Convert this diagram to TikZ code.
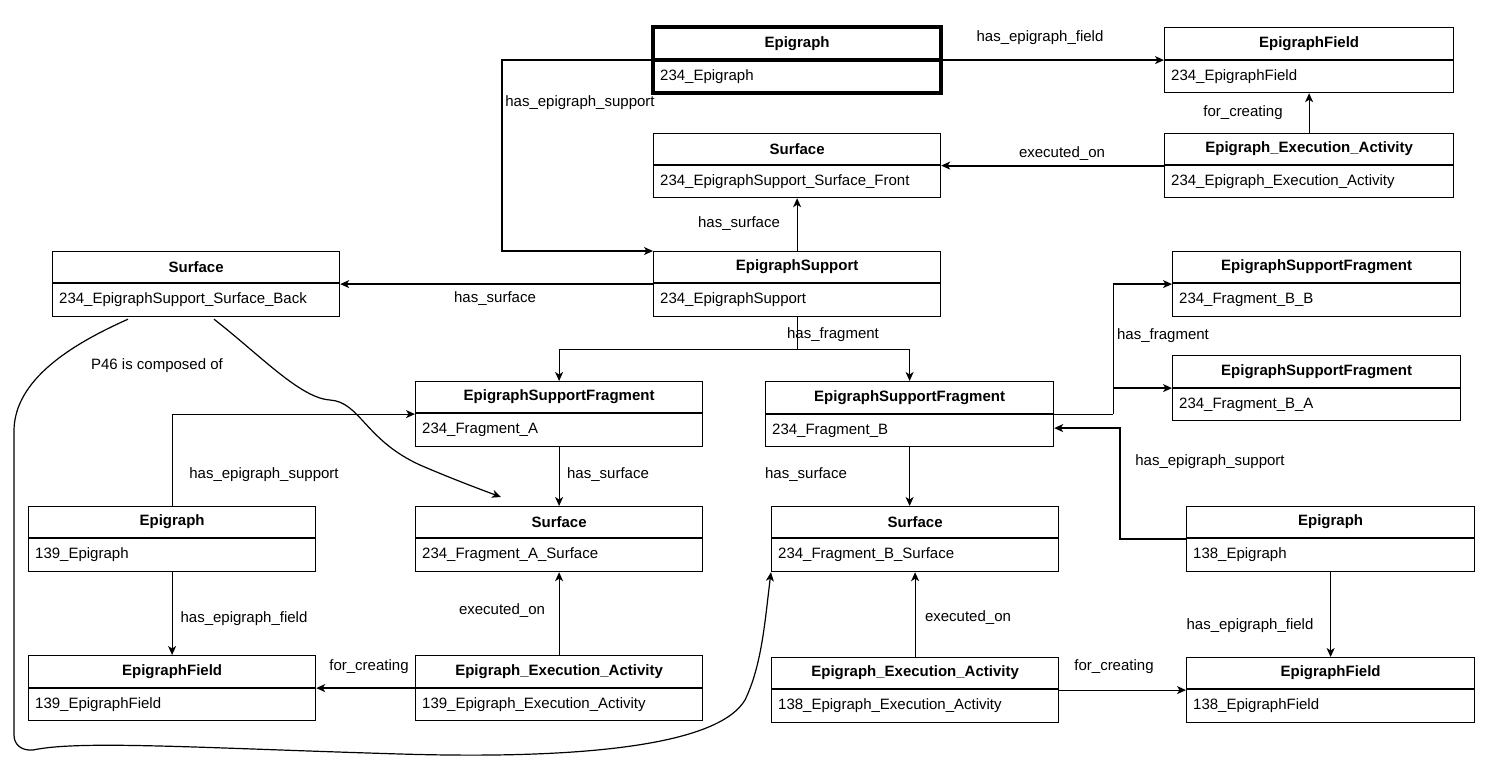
\documentclass[tikz,border=0pt]{standalone}
\usepackage{fontspec}
\setmainfont{Liberation Sans}
\usetikzlibrary{arrows.meta,calc}
\tikzset{
  boxst/.style={draw, line width=1.2pt, rectangle, inner sep=0pt, fill=white},
  ttl/.style={font=\fontsize{15}{18}\selectfont\bfseries, inner sep=0pt},
  val/.style={font=\fontsize{15}{18}\selectfont, inner sep=0pt, anchor=west},
  lbl/.style={font=\fontsize{15}{18}\selectfont, inner sep=0pt},
  conn/.style={line width=1.2pt},
  arr/.style={conn, -{Stealth[length=9pt,width=8pt,inset=2.5pt]}},
  heavy/.style={line width=2pt}
}
% name, x1, y1, x2, y2, ydiv, title, value, divider width
\newcommand\umlbox[9]{%
  \node[boxst, minimum width={(#4-#2)*1pt}, minimum height={(#5-#3)*1pt}, anchor=north west] (#1) at (#2,#3) {};
  \draw[line width=#9] (#1.west |- 0,#6) -- (#1.east |- 0,#6);
  \node[ttl] (#1-t) at ($(#1.north)!0.5!(#1.north |- 0,#6)$) {#7};
  \node[val] (#1-v) at ($(#1.west |- 0,#6)!0.5!(#1.south west)+(7,0)$) {#8};
}
\begin{document}
\begin{tikzpicture}[x=1pt,y=-1pt]
\useasboundingbox[fill=white] (0,0) rectangle (1492,767);

% boxes
\umlbox{ep234}{653}{27}{940}{92}{60}{Epigraph}{234\_Epigraph}{4pt}
\draw[line width=4pt] (ep234.north west) rectangle (ep234.south east);
\umlbox{ef234}{1164}{27}{1453}{92}{60}{EpigraphField}{234\_EpigraphField}{1.2pt}
\umlbox{sf}{653}{133}{940}{197}{165}{Surface}{234\_EpigraphSupport\_Surface\_Front}{1.2pt}
\umlbox{eea234}{1164}{133}{1453}{197}{165}{Epigraph\_Execution\_Activity}{234\_Epigraph\_Execution\_Activity}{1.2pt}
\umlbox{sb}{52}{251}{339}{316}{283}{Surface}{234\_EpigraphSupport\_Surface\_Back}{1.2pt}
\umlbox{es}{653}{251}{940}{316}{283}{EpigraphSupport}{234\_EpigraphSupport}{1.2pt}
\umlbox{esfbb}{1172}{251}{1460}{316}{283}{EpigraphSupportFragment}{234\_Fragment\_B\_B}{1.2pt}
\umlbox{esfba}{1172}{355}{1460}{420}{388}{EpigraphSupportFragment}{234\_Fragment\_B\_A}{1.2pt}
\umlbox{esfa}{415}{381}{702}{446}{413}{EpigraphSupportFragment}{234\_Fragment\_A}{1.2pt}
\umlbox{esfb}{765}{381}{1053}{446}{414}{EpigraphSupportFragment}{234\_Fragment\_B}{2pt}
\umlbox{ep139}{28}{506}{315}{571}{538}{Epigraph}{139\_Epigraph}{1.2pt}
\umlbox{sa}{415}{506}{702}{571}{538}{Surface}{234\_Fragment\_A\_Surface}{1.2pt}
\umlbox{sbx}{771}{506}{1058}{571}{538}{Surface}{234\_Fragment\_B\_Surface}{1.2pt}
\umlbox{ep138}{1186}{506}{1474}{571}{538}{Epigraph}{138\_Epigraph}{1.2pt}
\umlbox{ef139}{28}{655}{315}{720}{688}{EpigraphField}{139\_EpigraphField}{2pt}
\umlbox{eea139}{415}{655}{702}{720}{688}{Epigraph\_Execution\_Activity}{139\_Epigraph\_Execution\_Activity}{2pt}
\umlbox{eea138}{771}{657}{1058}{722}{689}{Epigraph\_Execution\_Activity}{138\_Epigraph\_Execution\_Activity}{1.2pt}
\umlbox{ef138}{1186}{657}{1474}{722}{689}{EpigraphField}{138\_EpigraphField}{1.2pt}

% connectors
\draw[arr] (ep234.east) -- (ef234.west);
\draw[arr] (ep234.west) -- ++(-151,0) |- (es.north west);
\draw[arr] (eea234.north) -- (ef234.south);
\draw[arr, heavy] (eea234.west) -- (sf.east);
\draw[arr] (es.north) -- (sf.south);
\draw[arr] (es.west) -- (sb.east);
\draw[conn] (es.south) -- ++(0,32) coordinate (split);
\draw[arr] (split) -| (esfa.north);
\draw[arr] (split) -| (esfb.north);
\draw[conn] (esfb.east) -- ++(59,0) coordinate (bsplit);
\draw[arr] (bsplit) |- (esfbb.west);
\draw[arr] (bsplit) |- (esfba.west);
\draw[arr, heavy] (ep138.west) -- ++(-66,0) |- ([yshift=-14pt]esfb.east);
\draw[arr] (ep138.south) -- (ef138.north);
\draw[arr] (eea138.east) -- (ef138.west);
\draw[arr] (eea138.north) -- (eea138.north |- sbx.south);
\draw[arr] (esfb.south) -- (esfb.south |- sbx.north);
\draw[arr] (esfa.south) -- (sa.north);
\draw[arr] (ep139.north) |- (esfa.west);
\draw[arr] (ep139.south) -- (ef139.north);
\draw[arr, heavy] (eea139.west) -- (ef139.east);
\draw[arr] (eea139.north) -- (sa.south);

% curves
\coordinate (c1s) at ([xshift=76pt,yshift=-2pt]sb.south west);
\coordinate (c2s) at ([xshift=162pt,yshift=-2pt]sb.south west);
\draw[arr] (c1s) .. controls (70,345) and (15,380) .. (14,430)
  -- (14,735) .. controls (14,745) and (22,751) .. (33,750)
  .. controls (80,740) and (200,748) .. (400,754)
  .. controls (600,760) and (720,742) .. (745,700)
  .. controls (762,665) and (765,620) .. (sbx.south west);
\draw[arr] (c2s) .. controls (260,355) and (300,398) .. (330,400)
  .. controls (360,402) and (365,440) .. (420,465)
  .. controls (450,478) and (482,490) .. ([xshift=86pt,yshift=9pt]sa.north west);

% labels
\node[lbl] (l1) at (1040,38) {has\_epigraph\_field};
\node[lbl] (l2) at (580,103) {has\_epigraph\_support};
\node[lbl] (l3) at (1243,113) {for\_creating};
\node[lbl] (l4) at (1062,154) {executed\_on};
\node[lbl] (l5) at (739,224) {has\_surface};
\node[lbl] (l6) at (495,299) {has\_surface};
\node[lbl] (l7) at (833,335) {has\_fragment};
\node[lbl] (l8) at (1163,336) {has\_fragment};
\node[lbl] (l9) at (157,366) {P46 is composed of};
\node[lbl] (l10) at (264,475) {has\_epigraph\_support};
\node[lbl] (l11) at (608,475) {has\_surface};
\node[lbl] (l12) at (806,475) {has\_surface};
\node[lbl] (l13) at (1210,462) {has\_epigraph\_support};
\node[lbl] (l14) at (502,611) {executed\_on};
\node[lbl] (l15) at (968,618) {executed\_on};
\node[lbl] (l16) at (244,619) {has\_epigraph\_field};
\node[lbl] (l17) at (1250,626) {has\_epigraph\_field};
\node[lbl] (l18) at (369,667) {for\_creating};
\node[lbl] (l19) at (1114,667) {for\_creating};
\end{tikzpicture}
\end{document}
